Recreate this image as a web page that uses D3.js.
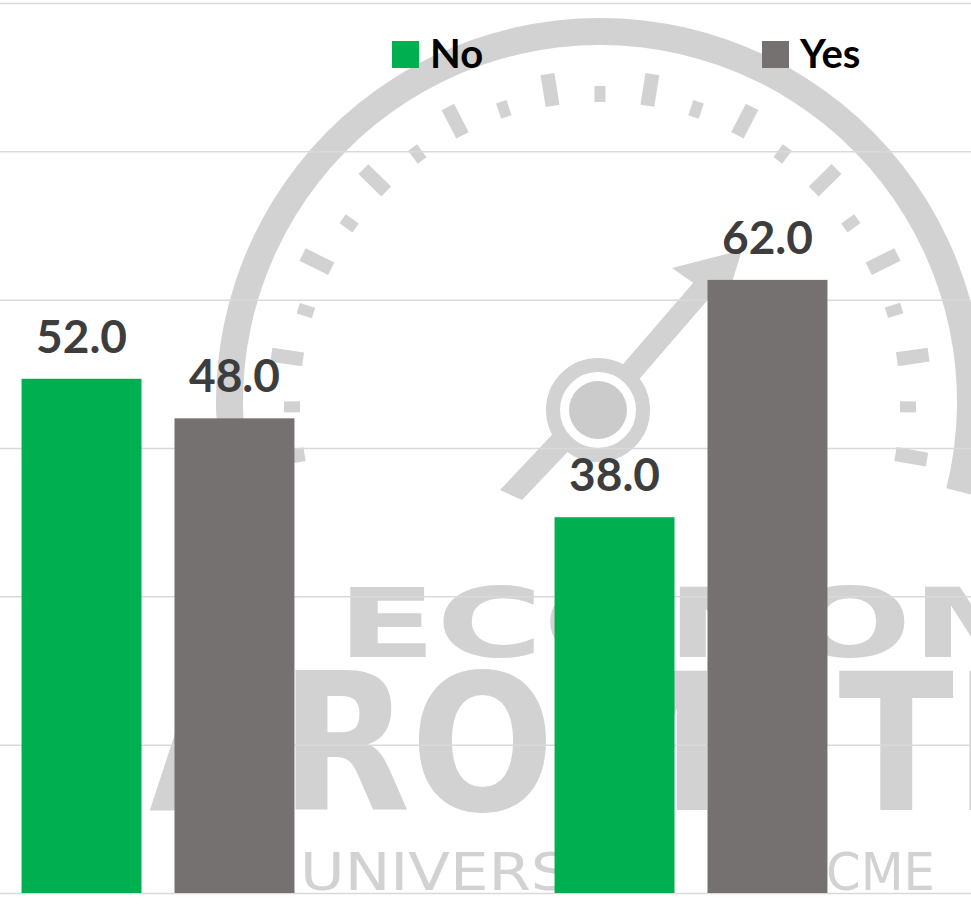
<!DOCTYPE html>
<html>
<head>
<meta charset="utf-8">
<script src="https://cdn.jsdelivr.net/npm/d3@7/dist/d3.min.js"></script>
<style>
  html, body { margin: 0; padding: 0; background: #ffffff; }
  svg { display: block; }
</style>
</head>
<body>
<svg id="chart" width="971" height="905"></svg>
<script>
// ---- data ----
const categories = ["Group 1", "Group 2"];
const seriesNames = ["No", "Yes"];
const noValues = [52.0, 38.0];
const yesValues = [48.0, 62.0];
const yTicks = [0, 15, 30, 45, 60, 75, 90];
const seriesColors = ["#00B050", "#767171"];

const W = 971, H = 905;
const svg = d3.select("#chart");

// scales
const y = d3.scaleLinear().domain([0, 90]).range([893, 3]);
const x0 = d3.scaleBand().domain(categories).range([-108.5, 957.5])
  .paddingInner(0.488).paddingOuter(0.244);
const x1 = d3.scaleBand().domain(seriesNames).range([0, x0.bandwidth()])
  .paddingInner(0.2157).paddingOuter(0);
const color = d3.scaleOrdinal().domain(seriesNames).range(seriesColors);

const rows = categories.map((c, i) => ({
  cat: c,
  vals: [{ s: "No", v: noValues[i] }, { s: "Yes", v: yesValues[i] }]
}));

// ---- watermark (decorative background) ----
const wm = svg.append("g").attr("class", "watermark");
const wmColor = "#d2d2d2";
const cx = 600, cy = 402;
wm.append("path")
  .attr("transform", `translate(${cx},${cy})`)
  .attr("d", d3.arc()({ innerRadius: 357, outerRadius: 384,
    startAngle: -104 * Math.PI / 180, endAngle: 104 * Math.PI / 180 }))
  .attr("fill", wmColor);
// tick marks of the gauge
d3.range(-100, 101, 9.09).forEach((deg, i) => {
  const long = i % 2 === 0;
  const a = deg * Math.PI / 180;
  const r1 = 300, r2 = long ? 332 : 316;
  wm.append("line")
    .attr("x1", cx + r1 * Math.sin(a)).attr("y1", cy - r1 * Math.cos(a))
    .attr("x2", cx + r2 * Math.sin(a)).attr("y2", cy - r2 * Math.cos(a))
    .attr("stroke", wmColor).attr("stroke-width", long ? 14 : 11);
});
// needle
const hx = 598, hy = 410;
wm.append("path").attr("d", "M 500 490 L 522 500 L 598 420 L 580 405 Z").attr("fill", wmColor);
wm.append("line").attr("x1", 598).attr("y1", 410).attr("x2", 712).attr("y2", 278)
  .attr("stroke", wmColor).attr("stroke-width", 22);
wm.append("path").attr("d", "M 672 268 L 742 250 L 725 305 Z").attr("fill", wmColor);
wm.append("circle").attr("cx", hx).attr("cy", hy).attr("r", 45)
  .attr("fill", "#ffffff").attr("stroke", wmColor).attr("stroke-width", 14);
wm.append("circle").attr("cx", hx).attr("cy", hy).attr("r", 29).attr("fill", "#cbcbcb");
// watermark words
const wmFont = "'Liberation Sans Narrow','DejaVu Sans Condensed','Liberation Sans',sans-serif";
wm.append("text").attr("x", 337).attr("y", 657)
  .attr("font-family", wmFont)
  .attr("font-weight", "700").attr("font-size", 96)
  .attr("textLength", 880).attr("lengthAdjust", "spacingAndGlyphs")
  .attr("fill", wmColor).text("ECONOMIC");
wm.append("text").attr("x", 20).attr("y", 810)
  .attr("font-family", wmFont)
  .attr("font-weight", "700").attr("font-size", 190)
  .attr("textLength", 1180).attr("lengthAdjust", "spacingAndGlyphs")
  .attr("fill", wmColor).text("BAROMETER");
wm.append("text").attr("x", 300).attr("y", 890)
  .attr("font-family", wmFont)
  .attr("font-weight", "400").attr("font-size", 52)
  .attr("textLength", 362).attr("lengthAdjust", "spacingAndGlyphs")
  .attr("fill", wmColor).text("UNIVERSITY");
wm.append("text").attr("x", 793).attr("y", 890)
  .attr("font-family", wmFont)
  .attr("font-weight", "400").attr("font-size", 52)
  .attr("textLength", 142).attr("lengthAdjust", "spacingAndGlyphs")
  .attr("fill", wmColor).text("ACME");

// ---- gridlines ----
const yAxis = d3.axisLeft(y).tickValues(yTicks).tickSize(-W).tickFormat("");
const gGrid = svg.append("g").attr("transform", "translate(0,0)").call(yAxis);
gGrid.select(".domain").remove();
gGrid.selectAll(".tick line").attr("stroke", "#d9d9d9").attr("stroke-width", 1.5);

// ---- bars ----
const groups = svg.append("g").selectAll("g").data(rows).join("g")
  .attr("transform", d => `translate(${x0(d.cat)},0)`);
groups.selectAll("rect").data(d => d.vals).join("rect")
  .attr("x", d => x1(d.s))
  .attr("y", d => y(d.v))
  .attr("width", x1.bandwidth())
  .attr("height", d => y(0) - y(d.v))
  .attr("fill", d => color(d.s));
groups.selectAll("text.val").data(d => d.vals).join("text")
  .attr("class", "val")
  .attr("x", d => x1(d.s) + x1.bandwidth() / 2)
  .attr("y", d => y(d.v) - 26)
  .attr("text-anchor", "middle")
  .attr("font-family", "Lato, 'Open Sans', sans-serif")
  .attr("font-weight", "700")
  .attr("font-size", 46)
  .attr("fill", "#3d3d3d")
  .text(d => d.v.toFixed(1));

// ---- legend ----
const legendX = [392, 762];
const leg = svg.append("g").selectAll("g").data(seriesNames).join("g")
  .attr("transform", (d, i) => `translate(${legendX[i]},41)`);
leg.append("rect").attr("width", 27).attr("height", 27).attr("fill", d => color(d));
leg.append("text").attr("x", 38).attr("y", 27)
  .attr("font-family", "Lato, 'Open Sans', sans-serif")
  .attr("font-weight", "700").attr("font-size", 40)
  .attr("fill", "#000000").text(d => d);
</script>
</body>
</html>
